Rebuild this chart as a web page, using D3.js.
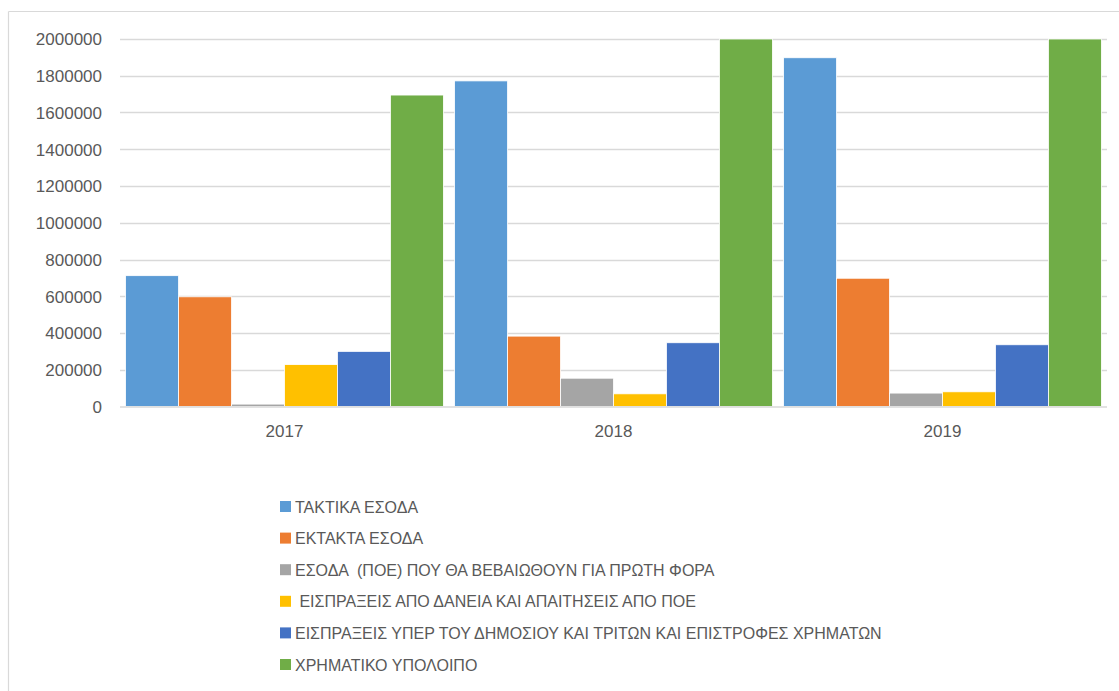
<!DOCTYPE html>
<html><head><meta charset="utf-8">
<script src="https://cdn.jsdelivr.net/npm/d3@7"></script>
<style>body{margin:0;background:#fff}svg{display:block}text{font-family:"Liberation Sans",Arial,sans-serif;fill:#595959}</style>
</head><body><svg id="c" width="1119" height="691"></svg>
<script>
const years = ["2017", "2018", "2019"];
const seriesNames = [
  "ΤΑΚΤΙΚΑ ΕΣΟΔΑ",
  "ΕΚΤΑΚΤΑ ΕΣΟΔΑ",
  "ΕΣΟΔΑ  (ΠΟΕ) ΠΟΥ ΘΑ ΒΕΒΑΙΩΘΟΥΝ ΓΙΑ ΠΡΩΤΗ ΦΟΡΑ",
  " ΕΙΣΠΡΑΞΕΙΣ ΑΠΟ ΔΑΝΕΙΑ ΚΑΙ ΑΠΑΙΤΗΣΕΙΣ ΑΠΟ ΠΟΕ",
  "ΕΙΣΠΡΑΞΕΙΣ ΥΠΕΡ ΤΟΥ ΔΗΜΟΣΙΟΥ ΚΑΙ ΤΡΙΤΩΝ ΚΑΙ ΕΠΙΣΤΡΟΦΕΣ ΧΡΗΜΑΤΩΝ",
  "ΧΡΗΜΑΤΙΚΟ ΥΠΟΛΟΙΠΟ"
];
const taktika   = [712000, 1772000, 1898000];
const ektakta   = [597000, 383000, 698000];
const poe       = [13000, 154000, 73000];
const daneia    = [228000, 69000, 80000];
const dimosiou  = [300000, 347000, 336000];
const ypoloipo  = [1695000, 2000000, 2000000];
const yTicks = [0, 200000, 400000, 600000, 800000, 1000000, 1200000, 1400000, 1600000, 1800000, 2000000];
const colors = ["#5b9bd5", "#ed7d31", "#a5a5a5", "#ffc000", "#4472c4", "#70ad47"];

const values = [taktika, ektakta, poe, daneia, dimosiou, ypoloipo];
const svg = d3.select("#c");

// chart border (top and left visible)
svg.append("line").attr("x1", 8.5).attr("x2", 1119).attr("y1", 11.5).attr("y2", 11.5).attr("stroke", "#d9d9d9").attr("stroke-width", 1.2);
svg.append("line").attr("x1", 8.5).attr("x2", 8.5).attr("y1", 11.5).attr("y2", 691).attr("stroke", "#d9d9d9").attr("stroke-width", 1.2);

const x0 = d3.scaleBand().domain(years).range([120, 1107]).paddingInner(0.034).paddingOuter(0.017);
const x1 = d3.scaleBand().domain(d3.range(seriesNames.length)).range([0, x0.bandwidth()]);
const y = d3.scaleLinear().domain([0, 2000000]).range([406.5, 39]);

// gridlines
svg.append("g").selectAll("line").data(yTicks.filter(d => d > 0)).join("line")
  .attr("x1", 120).attr("x2", 1107)
  .attr("y1", d => Math.round(y(d)) + 0.5).attr("y2", d => Math.round(y(d)) + 0.5)
  .attr("stroke", "#d9d9d9").attr("stroke-width", 1.3);

// y axis labels
const yAxis = d3.axisLeft(y).tickValues(yTicks).tickSize(0).tickPadding(0).tickFormat(d3.format("d"));
const ya = svg.append("g").attr("transform", "translate(102,0)").call(yAxis);
ya.select(".domain").remove();
ya.selectAll("text").style("font-size", "17px").attr("fill", "#595959").attr("dy", "0.35em");

// bars
const groups = svg.append("g").selectAll("g").data(years).join("g")
  .attr("transform", d => `translate(${x0(d)},0)`);
groups.selectAll("rect").data((d, i) => values.map((v, s) => ({s, v: v[i]}))).join("rect")
  .attr("x", d => x1(d.s))
  .attr("width", x1.bandwidth())
  .attr("y", d => y(d.v))
  .attr("height", d => y(0) - y(d.v))
  .attr("fill", d => colors[d.s])
  .attr("stroke", "#fff").attr("stroke-width", 0.8);

// x axis
svg.append("line").attr("x1", 120).attr("x2", 1107).attr("y1", 407).attr("y2", 407).attr("stroke", "#d9d9d9").attr("stroke-width", 1.5);
const xAxis = d3.axisBottom(x0).tickSize(0).tickPadding(0);
const xa = svg.append("g").attr("transform", "translate(0,437)").call(xAxis);
xa.select(".domain").remove();
xa.selectAll("text").style("font-size", "17px").attr("fill", "#595959").attr("dy", 0);

// legend
const leg = svg.append("g").selectAll("g").data(seriesNames).join("g")
  .attr("transform", (d, i) => `translate(280,${501 + i * 31.6})`);
leg.append("rect").attr("width", 11).attr("height", 11).attr("fill", (d, i) => colors[i]);
leg.append("text").attr("x", 15).attr("y", 11.5).style("font-size", "16px").style("white-space", "pre").attr("fill", "#595959").text(d => d);
</script></body></html>
